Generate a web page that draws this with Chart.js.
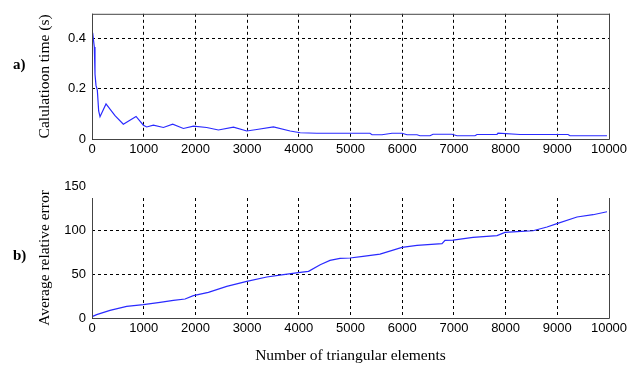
<!DOCTYPE html>
<html>
<head>
<meta charset="utf-8">
<script src="https://cdn.jsdelivr.net/npm/chart.js@4.4.1/dist/chart.umd.min.js"></script>
<style>
    body { margin: 0; background: #fff; width: 640px; height: 365px; position: relative; overflow: hidden; }
    canvas { position: absolute; left: 0; }
    .tag { position: absolute; font: bold 15px "Liberation Serif", serif; color: #000; }
</style>
</head>
<body>
<canvas id="top"></canvas>
<canvas id="bottom"></canvas>
<div class="tag" style="left:13px; top:56px">a)</div>
<div class="tag" style="left:13px; top:247px">b)</div>
<script>
// a) calculation time vs number of elements
const timeX = [13, 45, 58, 77, 103, 129, 155, 271, 445, 606, 852, 994, 1058, 1187, 1381, 1561, 1768, 1961, 2219, 2445, 2736, 2994, 3187, 3510, 3833, 4027, 4349, 4410, 5377, 5416, 5609, 5803, 5996, 6093, 6286, 6344, 6538, 6596, 6963, 7060, 7408, 7447, 7834, 7853, 8279, 9207, 9246, 9961]
const timeY = [0.424, 0.367, 0.259, 0.214, 0.195, 0.112, 0.089, 0.14, 0.093, 0.059, 0.09, 0.055, 0.048, 0.055, 0.046, 0.059, 0.042, 0.051, 0.046, 0.036, 0.047, 0.032, 0.038, 0.048, 0.032, 0.025, 0.023, 0.023, 0.023, 0.017, 0.017, 0.023, 0.023, 0.017, 0.017, 0.013, 0.013, 0.019, 0.019, 0.013, 0.013, 0.018, 0.018, 0.023, 0.018, 0.018, 0.013, 0.013]

// b) average relative error vs number of elements
const errX = [13, 90, 348, 671, 994, 1316, 1574, 1800, 1961, 2251, 2606, 2994, 3381, 3704, 4027, 4188, 4414, 4603, 4797, 4990, 5242, 5571, 5996, 6286, 6770, 6828, 6983, 7370, 7834, 7988, 8221, 8530, 8801, 8994, 9381, 9691, 9961]
const errY = [1.9, 3.8, 8.7, 13.3, 15.2, 17.8, 20, 21.6, 25.4, 29.2, 36, 41.7, 46.6, 49.2, 51.9, 53, 60.6, 65.5, 67.8, 68.2, 70, 72.7, 80.3, 82.6, 84.5, 88.3, 88.6, 91.7, 93.6, 97.3, 98.1, 99.2, 103.4, 107.2, 114.8, 117.4, 120.8]

const xTicks = [0, 1000, 2000, 3000, 4000, 5000, 6000, 7000, 8000, 9000, 10000]
const timeTicks = [0, 0.2, 0.4]
const errTicks = [0, 50, 100, 150]

const tickFont = { family: 'Liberation Sans', size: 13 }
const titleFont = { family: 'Liberation Serif', size: 15.5 }

// draws the black box round the plot area (no top edge for b)
const boxPlugin = {
    id: 'box',
    afterDatasetsDraw(chart, args, opts) {
        const a = chart.chartArea
        const ctx = chart.ctx
        ctx.save()
        ctx.strokeStyle = '#444'
        ctx.lineWidth = 1
        ctx.beginPath()
        if (opts.top) {
            ctx.moveTo(a.left + 0.5, a.top + 0.5)
            ctx.lineTo(a.right + 0.5, a.top + 0.5)
        }
        ctx.moveTo(a.left + 0.5, a.top)
        ctx.lineTo(a.left + 0.5, a.bottom + 0.5)
        ctx.lineTo(a.right + 0.5, a.bottom + 0.5)
        ctx.lineTo(a.right + 0.5, a.top)
        ctx.stroke()
        // extra tick label above the clipped top (e.g. 150)
        if (opts.extra !== undefined) {
            const y = chart.scales.y.getPixelForValue(opts.extra)
            ctx.fillStyle = '#000'
            ctx.font = '13px "Liberation Sans"'
            ctx.textAlign = 'right'
            ctx.textBaseline = 'middle'
            ctx.fillText(String(opts.extra), a.left - 6, y)
        }
        ctx.restore()
    }
}

function makeChart(id, opts) {
    const canvas = document.getElementById(id)
    canvas.width = 640
    canvas.height = opts.height
    canvas.style.top = opts.offset + 'px'

    return new Chart(canvas, {
        type: 'line',
        data: {
            datasets: [{
                data: opts.xs.map((x, i) => ({ x, y: opts.ys[i] })),
                borderColor: '#2a2aff',
                borderWidth: 1.2,
                pointRadius: 0,
                tension: 0
            }]
        },
        options: {
            responsive: false,
            animation: false,
            layout: { padding: { left: 30, right: 31, top: opts.padTop, bottom: 0 } },
            plugins: {
                legend: { display: false },
                tooltip: { enabled: false },
                box: { top: opts.boxTop, extra: opts.extra }
            },
            scales: {
                x: {
                    type: 'linear',
                    min: 0,
                    max: 10000,
                    afterBuildTicks: s => { s.ticks = xTicks.map(v => ({ value: v })) },
                    ticks: {
                        color: '#000', font: tickFont, padding: 3, maxRotation: 0, autoSkip: false,
                        callback: v => String(v)
                    },
                    grid: { color: '#000', lineWidth: 1, drawTicks: false },
                    border: { display: false, dash: [3, 3] },
                    title: {
                        display: !!opts.xTitle,
                        text: opts.xTitle,
                        color: '#000',
                        font: titleFont,
                        padding: { top: 2, bottom: 0 }
                    },
                    afterFit: s => { s.height = opts.xHeight }
                },
                y: {
                    min: 0,
                    max: opts.yMax,
                    afterBuildTicks: s => { s.ticks = opts.yTicks.filter(v => v <= opts.yMax).map(v => ({ value: v })) },
                    ticks: { color: '#000', font: tickFont, padding: 6, callback: v => String(v) },
                    grid: { color: '#000', lineWidth: 1, drawTicks: false },
                    border: { display: false, dash: [3, 3] },
                    title: {
                        display: true,
                        text: opts.yTitle,
                        color: '#000',
                        font: titleFont,
                        padding: { top: 6, bottom: 0 }
                    },
                    afterFit: s => { s.width = 62 }
                }
            }
        },
        plugins: [boxPlugin]
    })
}

makeChart('top', {
    height: 165, offset: 0, padTop: 8,
    xs: timeX, ys: timeY,
    yMax: 0.5, yTicks: timeTicks,
    yTitle: 'Calulatioon time (s)',
    xHeight: 26, boxTop: true
})

makeChart('bottom', {
    height: 200, offset: 165, padTop: 33,
    xs: errX, ys: errY,
    yMax: 136.4, yTicks: errTicks,
    yTitle: 'Average relative error',
    xTitle: 'Number of triangular elements',
    xHeight: 47, boxTop: false, extra: 150
})
</script>
</body>
</html>
